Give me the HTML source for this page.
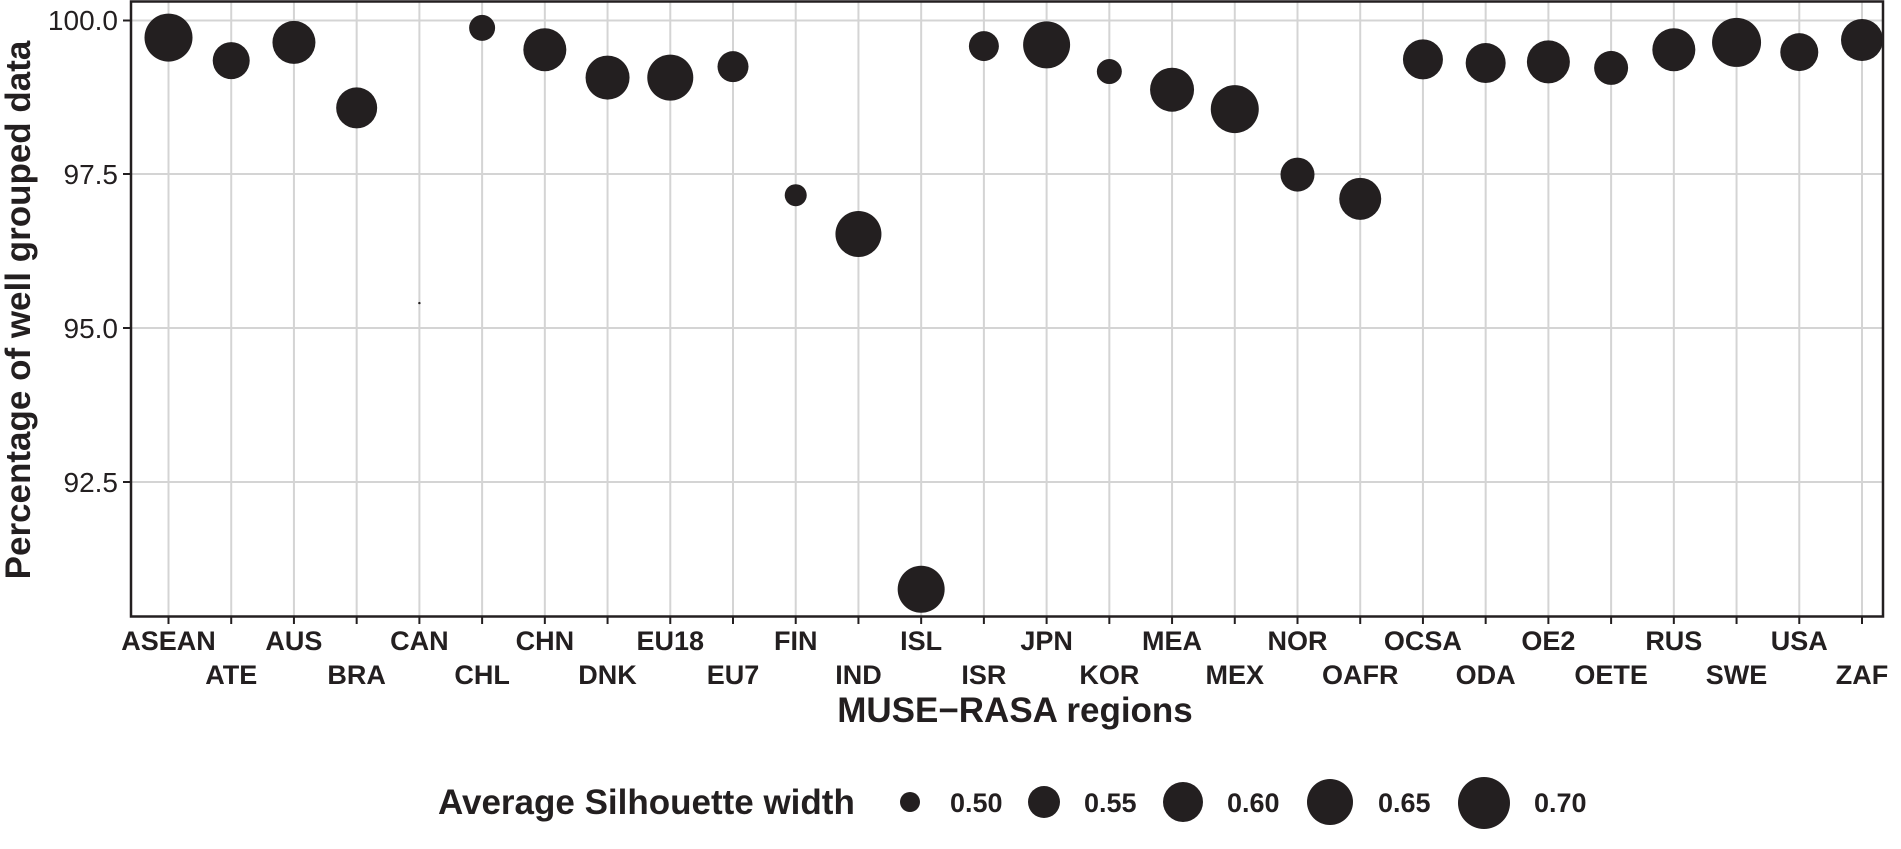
<!DOCTYPE html>
<html><head><style>
body{margin:0;background:#fff;}
svg{display:block;font-family:"Liberation Sans",Arial,sans-serif;}
</style></head><body>
<svg width="1901" height="849" viewBox="0 0 1901 849" xmlns="http://www.w3.org/2000/svg">
<g stroke="#d4d4d4" stroke-width="2">
<line x1="131" x2="1883" y1="20.5" y2="20.5"/>
<line x1="131" x2="1883" y1="174" y2="174"/>
<line x1="131" x2="1883" y1="328" y2="328"/>
<line x1="131" x2="1883" y1="482" y2="482"/>
</g>
<g id="vg" stroke="#d4d4d4" stroke-width="2"></g>
<g id="dots" fill="#231f20"></g>
<rect x="131" y="1.5" width="1752" height="615" fill="none" stroke="#231f20" stroke-width="2.5"/>
<g stroke="#231f20" stroke-width="2">
<line x1="123" x2="131" y1="20.5" y2="20.5"/><line x1="123" x2="131" y1="174" y2="174"/>
<line x1="123" x2="131" y1="328" y2="328"/><line x1="123" x2="131" y1="482" y2="482"/>
</g>
<g id="xt" stroke="#231f20" stroke-width="2"></g>
<g font-size="28" fill="#231f20" text-anchor="end">
<text x="118" y="30">100.0</text><text x="118" y="184">97.5</text>
<text x="118" y="338">95.0</text><text x="118" y="492">92.5</text>
</g>
<g id="xl" font-size="27" font-weight="bold" fill="#231f20" text-anchor="middle"></g>
<text x="1015" y="722" font-size="35" font-weight="bold" text-anchor="middle" fill="#231f20">MUSE−RASA regions</text>
<text transform="translate(30,310) rotate(-90)" font-size="35" font-weight="bold" text-anchor="middle" fill="#231f20">Percentage of well grouped data</text>
<g fill="#231f20" font-weight="bold">
<text x="438" y="814" font-size="35">Average Silhouette width</text>
<circle cx="910" cy="802" r="10"/><text x="950" y="812" font-size="27">0.50</text>
<circle cx="1044" cy="802" r="16"/><text x="1084" y="812" font-size="27">0.55</text>
<circle cx="1183" cy="802" r="20"/><text x="1227" y="812" font-size="27">0.60</text>
<circle cx="1330" cy="802" r="23"/><text x="1378" y="812" font-size="27">0.65</text>
<circle cx="1484" cy="803" r="26"/><text x="1534" y="812" font-size="27">0.70</text>
</g>
</svg>
<script>
var d=[["ASEAN",31,24],["ATE",50,18.5],["AUS",35,21.5],["BRA",89,20.5],["CAN",250,1.2],["CHL",23,13],["CHN",41,21.5],["DNK",64,22],["EU18",64,23],["EU7",55,15.5],["FIN",161,11],["IND",193,23],["ISL",486,23.5],["ISR",38,15],["JPN",37,23.5],["KOR",59,12.5],["MEA",74,22],["MEX",90,24],["NOR",144,17],["OAFR",164,21],["OCSA",49,20],["ODA",52,20],["OE2",51,21.5],["OETE",56,17],["RUS",41,21.5],["SWE",35,24.5],["USA",43,19],["ZAF",33,21]];
var ns="http://www.w3.org/2000/svg";
function el(t,a,p,txt){var e=document.createElementNS(ns,t);for(var k in a)e.setAttribute(k,a[k]);if(txt)e.textContent=txt;document.getElementById(p).appendChild(e);}
var n=d.length,x0=168.5,x1=1862,st=(x1-x0)/(n-1);
d.forEach(function(v,i){var x=x0+i*st;
el("line",{x1:x,x2:x,y1:2,y2:616},"vg");
el("line",{x1:x,x2:x,y1:616,y2:624},"xt");
el("circle",{cx:x,cy:v[1]*1.2124,r:v[2]},"dots");
el("text",{x:x,y:i%2?684:650},"xl",v[0]);});
</script>
</body></html>
